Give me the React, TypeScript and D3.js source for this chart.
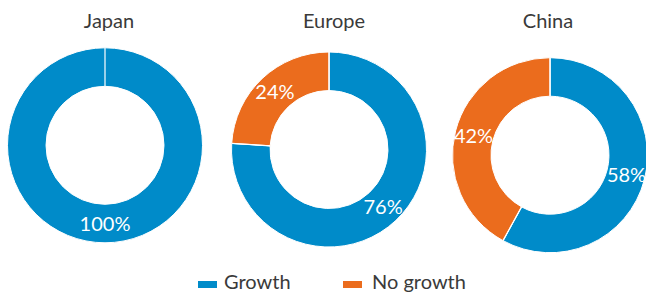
import React from "react";
import * as d3 from "d3";

const regions = ["Japan", "Europe", "China"];
const seriesNames = ["Growth", "No growth"];
const growth = [100, 76, 58];
const noGrowth = [0, 24, 42];
const colors = ["#008BC9", "#EB6C1D"];

const W = 646;
const H = 295;
const centers = [
  { x: 105, y: 145.3 },
  { x: 329, y: 149.5 },
  { x: 550, y: 155.2 },
];
const titleX = [109, 334, 548];
const outerR = 97.5;
const innerR = 59;

export default function App() {
  const pie = d3
    .pie<number>()
    .sort(null)
    .value((d) => d);
  const arc = d3.arc<d3.PieArcDatum<number>>().innerRadius(innerR).outerRadius(outerR);
  const labelArc = d3
    .arc<d3.PieArcDatum<number>>()
    .innerRadius(79)
    .outerRadius(79);
  const font = "Lato, 'Open Sans', sans-serif";

  return (
    <svg
      width={W}
      height={H}
      style={{ position: "absolute", left: 0, top: 0, background: "#fff" }}
    >
      {regions.map((r, i) => {
        const vals = [growth[i], noGrowth[i]];
        const arcs = pie(vals);
        const c = centers[i];
        return (
          <g key={r}>
            <text
              x={titleX[i]}
              y={27.5}
              textAnchor="middle"
              fontFamily={font}
              fontSize={20}
              fontWeight={400}
              fill="#3a3a3a"
            >
              {r}
            </text>
            <g transform={`translate(${c.x},${c.y})`}>
              {arcs.map((a, j) =>
                a.value > 0 ? (
                  <path
                    key={j}
                    d={arc(a) || ""}
                    fill={colors[j]}
                    stroke="#fff"
                    strokeWidth={1}
                  />
                ) : null
              )}
              {arcs.map((a, j) => {
                if (a.value <= 0) return null;
                const ang = a.startAngle;
                const sx = Math.sin(ang);
                const sy = -Math.cos(ang);
                return (
                  <line
                    key={"s" + j}
                    x1={sx * innerR}
                    y1={sy * innerR}
                    x2={sx * outerR}
                    y2={sy * outerR}
                    stroke="#fff"
                    strokeWidth={1.2}
                  />
                );
              })}
              {arcs.map((a, j) => {
                if (a.value <= 0) return null;
                const [lx, ly] = labelArc.centroid(a);
                return (
                  <text
                    key={"l" + j}
                    x={lx}
                    y={ly}
                    dy="0.36em"
                    textAnchor="middle"
                    fontFamily={font}
                    fontSize={20}
                    fontWeight={400}
                    fill="#fff"
                  >
                    {a.value + "%"}
                  </text>
                );
              })}
            </g>
          </g>
        );
      })}
      <g fontFamily={font} fontSize={20} fontWeight={400} fill="#3a3a3a">
        <rect x={198} y={281} width={19} height={7} fill={colors[0]} />
        <text x={224} y={289}>
          {seriesNames[0]}
        </text>
        <rect x={343} y={281} width={19} height={7} fill={colors[1]} />
        <text x={372} y={289}>
          {seriesNames[1]}
        </text>
      </g>
    </svg>
  );
}
